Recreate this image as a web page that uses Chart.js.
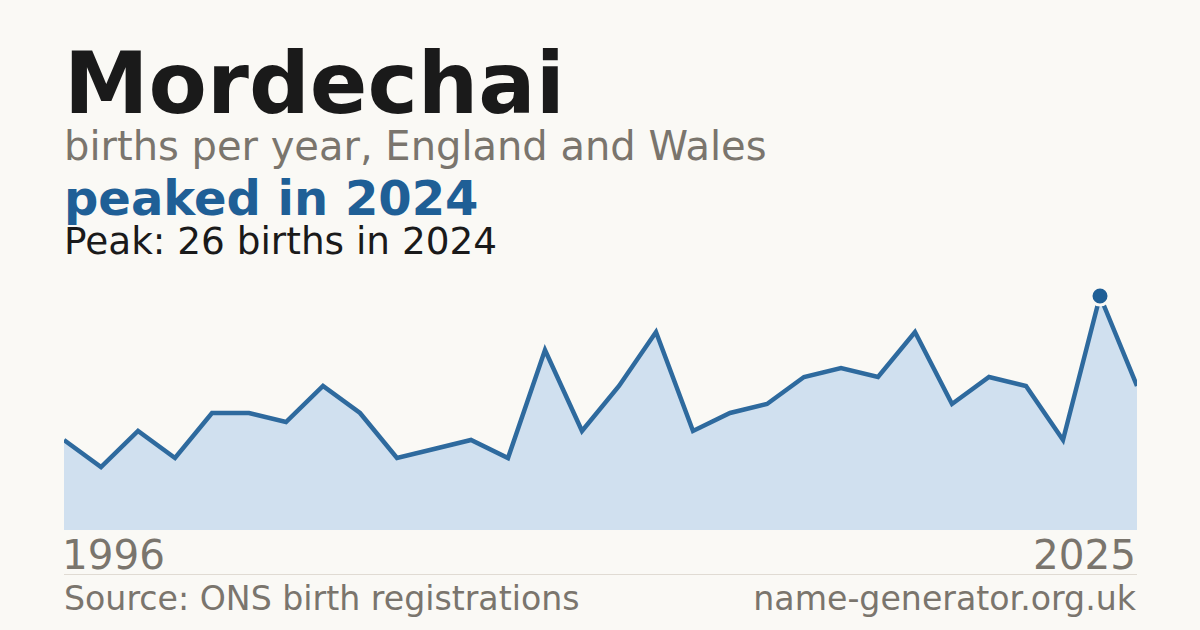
<!DOCTYPE html>
<html>
<head>
<meta charset="utf-8">
<script src="https://cdn.jsdelivr.net/npm/chart.js@4"></script>
<style>
  html, body { margin: 0; padding: 0; }
  body {
    width: 1200px; height: 630px; overflow: hidden; position: relative;
    background: #faf9f5; font-family: 'DejaVu Sans', sans-serif;
  }
  .txt { position: absolute; line-height: 1; white-space: nowrap; }
  #title { left: 64px; top: 41px; font-size: 85px; font-weight: bold; color: #1a1a1a; }
  #sub { left: 64px; top: 126px; font-size: 40px; color: #7a756d; }
  #headline { left: 64px; top: 174px; font-size: 48px; font-weight: bold; color: #1f5f96; }
  #peak { left: 64px; top: 223px; font-size: 37.4px; color: #1a1a1a; }
  #yearStart { left: 62px; top: 535px; font-size: 40.5px; color: #7a756d; }
  #yearEnd { right: 64px; top: 535px; font-size: 40.5px; color: #7a756d; }
  #rule { position: absolute; left: 64px; top: 574px; width: 1073px; height: 1px; background: #e0dbd3; }
  #source { left: 64px; top: 582px; font-size: 33.2px; color: #7a756d; }
  #site { right: 64px; top: 582px; font-size: 33.2px; color: #7a756d; }
  #wrap { position: absolute; left: 64px; top: 278px; width: 1073px; height: 252px; }
</style>
</head>
<body>
<div class="txt" id="title">Mordechai</div>
<div class="txt" id="sub">births per year, England and Wales</div>
<div class="txt" id="headline">peaked in 2024</div>
<div class="txt" id="peak"></div>
<div id="wrap"><canvas id="chart" width="1073" height="252"></canvas></div>
<div class="txt" id="yearStart"></div>
<div class="txt" id="yearEnd"></div>
<div id="rule"></div>
<div class="txt" id="source">Source: ONS birth registrations</div>
<div class="txt" id="site">name-generator.org.uk</div>

<script>
const years = [1996, 1997, 1998, 1999, 2000, 2001, 2002, 2003, 2004, 2005,
  2006, 2007, 2008, 2009, 2010, 2011, 2012, 2013, 2014, 2015,
  2016, 2017, 2018, 2019, 2020, 2021, 2022, 2023, 2024, 2025];
const births = [10, 7, 11, 8, 13, 13, 12, 16, 13, 8,
  9, 10, 8, 20, 11, 16, 22, 11, 13, 14,
  17, 18, 17, 22, 14, 17, 16, 10, 26, 16];
const yMin = 0;
const yMax = 28;

// peak year
let peakIdx = 0;
births.forEach((v, i) => { if (v > births[peakIdx]) peakIdx = i; });

document.getElementById('peak').textContent =
  `Peak: ${births[peakIdx]} births in ${years[peakIdx]}`;
document.getElementById('yearStart').textContent = years[0];
document.getElementById('yearEnd').textContent = years[years.length - 1];

const ctx = document.getElementById('chart').getContext('2d');
new Chart(ctx, {
  type: 'line',
  data: {
    labels: years,
    datasets: [{
      data: births,
      borderColor: '#2e6a9e',
      borderWidth: 4.5,
      backgroundColor: '#d0e0ef',
      fill: 'origin',
      tension: 0,
      pointRadius: births.map((v, i) => i === peakIdx ? 9 : 0),
      pointBackgroundColor: '#1f5f96',
      pointBorderColor: '#faf9f5',
      pointBorderWidth: 3,
      pointHoverRadius: 0,
      clip: false
    }]
  },
  options: {
    responsive: false,
    devicePixelRatio: 1,
    animation: false,
    layout: { padding: 0 },
    plugins: { legend: { display: false }, tooltip: { enabled: false } },
    scales: {
      x: { display: false, offset: false },
      y: { display: false, min: yMin, max: yMax }
    }
  }
});
</script>
</body>
</html>
